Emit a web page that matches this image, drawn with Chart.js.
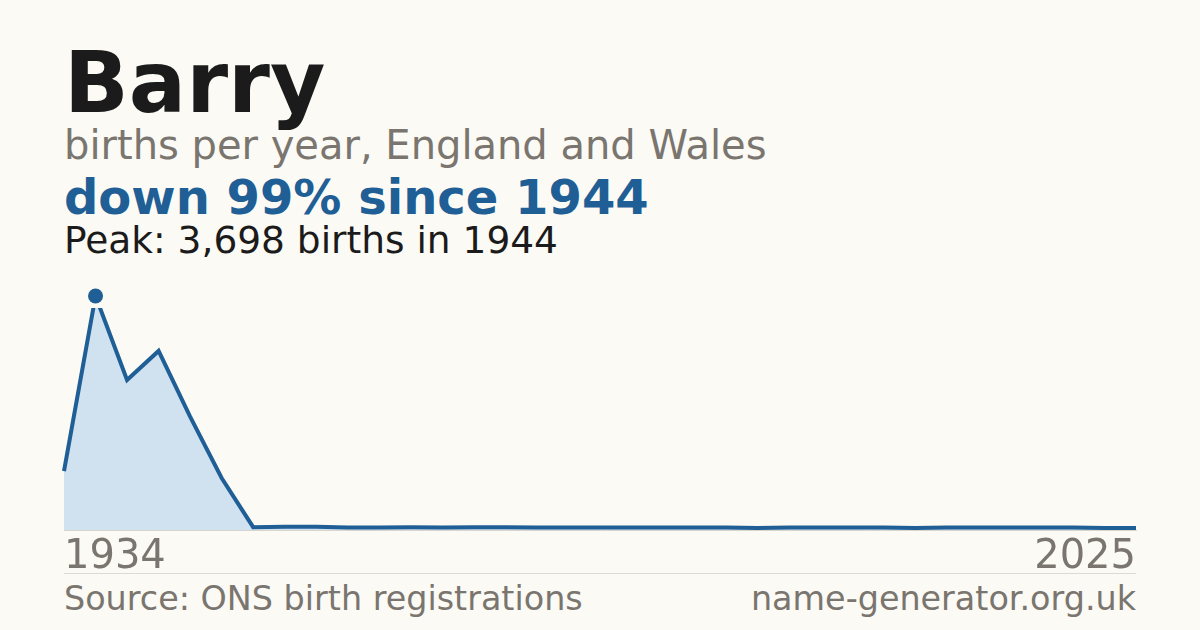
<!DOCTYPE html>
<html>
<head>
<meta charset="utf-8">
<script src="https://cdn.jsdelivr.net/npm/chart.js@4"></script>
<style>
  html, body { margin: 0; padding: 0; }
  body { width: 1200px; height: 630px; background: #fbfaf5; position: relative; overflow: hidden;
         font-family: "DejaVu Sans", sans-serif; }
  .t { position: absolute; left: 64px; line-height: 1; white-space: nowrap; }
  #title { top: 40px; font-size: 85px; font-weight: bold; color: #1b1b1b; }
  #sub { top: 125px; font-size: 40px; color: #7a756e; }
  #change { top: 173px; font-size: 48px; font-weight: bold; color: #1f5f96; }
  #peak { top: 222px; font-size: 37.5px; color: #1b1b1b; }
  #rule { position: absolute; left: 64px; width: 1072px; top: 573px; height: 1px; background: #dedbd4; }
  #source { top: 582px; font-size: 33.4px; color: #7a756e; }
  #site { top: 582px; left: auto; right: 64px; font-size: 33.4px; color: #7a756e; }
  #wrap { position: absolute; left: 58px; top: 280px; width: 1084px; height: 302px; }
</style>
</head>
<body>
<div class="t" id="title">Barry</div>
<div class="t" id="sub">births per year, England and Wales</div>
<div class="t" id="change">down 99% since 1944</div>
<div class="t" id="peak">Peak: 3,698 births in 1944</div>
<div id="rule"></div>
<div class="t" id="source">Source: ONS birth registrations</div>
<div class="t" id="site">name-generator.org.uk</div>
<div id="wrap"><canvas id="chart"></canvas></div>

<script>
// years shown on the chart (decades early on, then yearly)
const years = ['1934', '1944', '1954', '1964', '1974', '1984',
  '1997', '1998', '1999', '2000', '2001', '2002', '2003', '2004', '2005', '2006',
  '2007', '2008', '2009', '2010', '2011', '2012', '2013', '2014', '2015', '2016',
  '2017', '2018', '2019', '2020', '2021', '2022', '2023', '2024', '2025'];

const births = [932, 3698, 2370, 2830, 1790, 822,
  45, 50, 52, 40, 40, 44, 40, 45, 45, 40,
  40, 40, 40, 40, 40, 40, 32, 40, 40, 40,
  40, 33, 40, 40, 40, 40, 40, 32, 30];

const peakYear = '1944';
const peakValue = 3698;

const blue = '#1f5f96';

const peakPoint = years.map(y => y === peakYear ? peakValue : null);

new Chart(document.getElementById('chart'), {
    type: 'line',
    data: {
        labels: years,
        datasets: [
            {
                data: peakPoint,
                showLine: false,
                pointRadius: 7.5,
                pointBackgroundColor: blue,
                pointBorderWidth: 0,
                clip: false,
                order: 0
            },
            {
                data: births,
                borderColor: blue,
                borderWidth: 4,
                backgroundColor: '#d0e1f0',
                fill: 'origin',
                pointRadius: 0,
                tension: 0,
                clip: { left: 6, right: 6, top: -12, bottom: 6 },
                order: 1
            }
        ]
    },
    options: {
        responsive: true,
        maintainAspectRatio: false,
        devicePixelRatio: 1,
        animation: false,
        layout: { autoPadding: false, padding: { top: 16, left: 6, right: 6, bottom: 0 } },
        plugins: { legend: { display: false }, tooltip: { enabled: false } },
        scales: {
            y: { display: false, min: 0, max: peakValue },
            x: {
                offset: false,
                grid: {
                    display: true,
                    drawOnChartArea: false,
                    drawTicks: true,
                    tickLength: 4,
                    tickColor: 'rgba(0,0,0,0)'
                },
                border: { display: true, color: '#d8d5ce', width: 1 },
                ticks: {
                    autoSkip: false,
                    maxRotation: 0,
                    align: 'inner',
                    padding: 0,
                    color: '#7a756e',
                    font: { family: 'DejaVu Sans', size: 40 },
                    callback: function (value, index, ticks) {
                        return (index === 0 || index === ticks.length - 1) ? this.getLabelForValue(value) : '';
                    }
                }
            }
        }
    }
});
</script>
</body>
</html>
